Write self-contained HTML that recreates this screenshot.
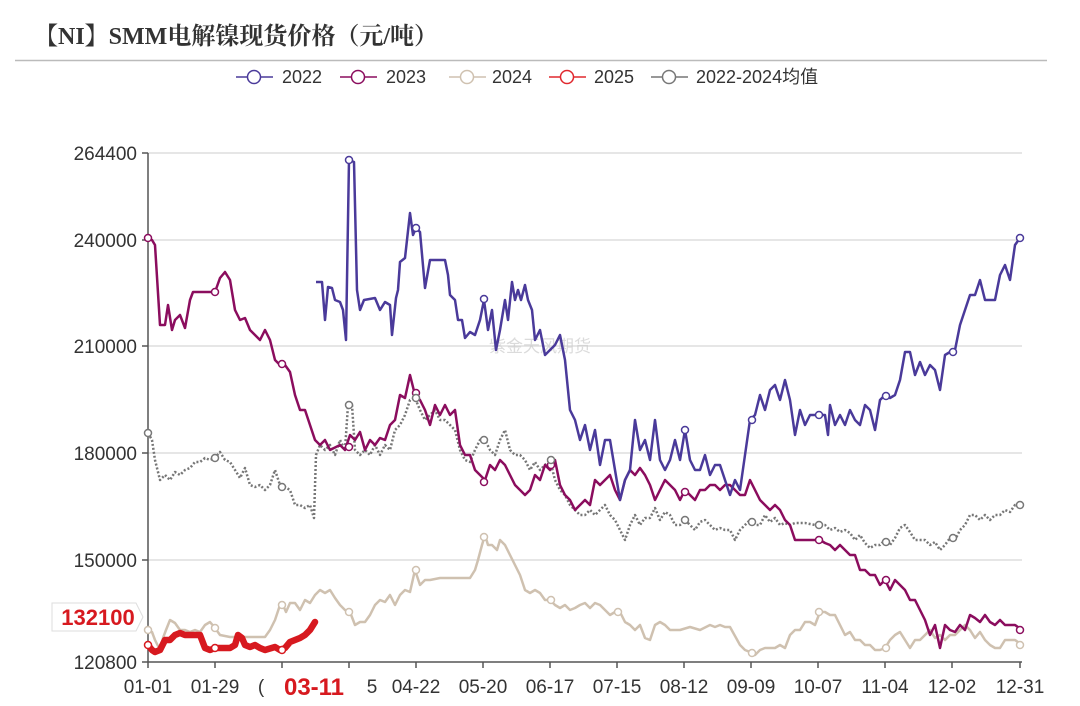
<!DOCTYPE html>
<html><head><meta charset="utf-8"><style>
body{margin:0;background:#fff;width:1080px;height:701px;overflow:hidden}
svg text{font-family:"Liberation Sans","Noto Sans CJK SC",sans-serif}
</style></head><body>
<svg width="1080" height="701" xmlns="http://www.w3.org/2000/svg">
<text x="34" y="44" font-weight="bold" font-size="24" fill="#333" style="font-family:'Liberation Serif','Noto Serif CJK SC',serif">【NI】SMM电解镍现货价格（元/吨）</text>
<line x1="15" y1="60.5" x2="1047" y2="60.5" stroke="#bbb" stroke-width="1.5"/>
<g font-size="18" fill="#333">
<line x1="236" y1="77" x2="273" y2="77" stroke="#4a3a9a" stroke-width="1.5"/><circle cx="254" cy="77" r="6.5" fill="#fff" stroke="#4a3a9a" stroke-width="1.5"/><text x="282" y="83">2022</text>
<line x1="340" y1="77" x2="377" y2="77" stroke="#8b0d5e" stroke-width="1.5"/><circle cx="358" cy="77" r="6.5" fill="#fff" stroke="#8b0d5e" stroke-width="1.5"/><text x="386" y="83">2023</text>
<line x1="449" y1="77" x2="486" y2="77" stroke="#cfc1b0" stroke-width="1.5"/><circle cx="467" cy="77" r="6.5" fill="#fff" stroke="#cfc1b0" stroke-width="1.5"/><text x="492" y="83">2024</text>
<line x1="549" y1="77" x2="586" y2="77" stroke="#e0282e" stroke-width="1.5"/><circle cx="567" cy="77" r="6.5" fill="#fff" stroke="#e0282e" stroke-width="1.5"/><text x="594" y="83">2025</text>
<line x1="651" y1="77" x2="688" y2="77" stroke="#777" stroke-width="1.5"/><circle cx="669" cy="77" r="6.5" fill="#fff" stroke="#777" stroke-width="1.5"/><text x="696" y="83">2022-2024均值</text>
</g>
<g stroke="#ddd" stroke-width="1.5">
<line x1="148" y1="153" x2="1022" y2="153"/><line x1="148" y1="240" x2="1022" y2="240"/><line x1="148" y1="346" x2="1022" y2="346"/><line x1="148" y1="453" x2="1022" y2="453"/><line x1="148" y1="560" x2="1022" y2="560"/>
</g>
<g stroke="#555" stroke-width="1.5">
<line x1="148" y1="153" x2="148" y2="662"/><line x1="148" y1="662" x2="1022" y2="662"/>
<line x1="142" y1="153" x2="148" y2="153"/><line x1="142" y1="240" x2="148" y2="240"/><line x1="142" y1="346" x2="148" y2="346"/><line x1="142" y1="453" x2="148" y2="453"/><line x1="142" y1="560" x2="148" y2="560"/><line x1="142" y1="662" x2="148" y2="662"/>
<line x1="148" y1="662" x2="148" y2="668"/><line x1="215" y1="662" x2="215" y2="668"/><line x1="282" y1="662" x2="282" y2="668"/><line x1="349" y1="662" x2="349" y2="668"/><line x1="416" y1="662" x2="416" y2="668"/><line x1="483" y1="662" x2="483" y2="668"/><line x1="550" y1="662" x2="550" y2="668"/><line x1="617" y1="662" x2="617" y2="668"/><line x1="684" y1="662" x2="684" y2="668"/><line x1="751" y1="662" x2="751" y2="668"/><line x1="818" y1="662" x2="818" y2="668"/><line x1="885" y1="662" x2="885" y2="668"/><line x1="952" y1="662" x2="952" y2="668"/><line x1="1020" y1="662" x2="1020" y2="668"/>
</g>
<g font-size="19" fill="#333" text-anchor="end">
<text x="137" y="160">264400</text><text x="137" y="247">240000</text><text x="137" y="353">210000</text><text x="137" y="460">180000</text><text x="137" y="567">150000</text><text x="137" y="669">120800</text>
</g>
<g font-size="19" fill="#333" text-anchor="middle">
<text x="148" y="693">01-01</text><text x="215" y="693">01-29</text><text x="261" y="693">(</text><text x="372" y="693">5</text><text x="416" y="693">04-22</text><text x="483" y="693">05-20</text><text x="550" y="693">06-17</text><text x="617" y="693">07-15</text><text x="684" y="693">08-12</text><text x="751" y="693">09-09</text><text x="818" y="693">10-07</text><text x="885" y="693">11-04</text><text x="952" y="693">12-02</text><text x="1020" y="693">12-31</text>
</g>
<text x="314" y="695" font-size="24" font-weight="bold" fill="#d7191f" text-anchor="middle">03-11</text>
<text x="540" y="352" font-size="17" fill="#ccc" text-anchor="middle" opacity="0.7">紫金天风期货</text>
<g fill="none" stroke-linejoin="round">
<polyline stroke="#cfc1b0" stroke-width="2.5" points="148,630 152,632 155,640 160,650 163,638 166,630 170,620 175,623 180,630 185,630 190,632 195,630 200,632 205,625 210,622 215,628 220,635 230,637 240,637 250,637 265,637 270,630 275,620 280,605 283,605 286,612 290,603 295,603 300,610 305,600 310,603 315,595 320,590 325,593 330,590 335,598 340,605 345,610 350,612 355,625 360,622 365,622 370,615 375,605 380,600 385,602 390,595 395,605 400,595 405,590 410,592 415,570 420,585 425,580 430,580 440,578 450,578 460,578 470,578 475,570 478,560 482,545 485,535 488,545 492,545 497,550 500,540 505,545 510,555 515,565 520,575 525,590 530,593 535,590 540,593 545,600 550,600 555,605 560,608 565,605 570,610 575,608 580,605 585,603 590,608 595,603 600,605 605,610 610,615 615,612 620,612 625,622 630,625 635,630 640,625 645,638 650,640 655,625 660,622 665,625 670,630 680,630 690,627 700,630 710,625 715,627 720,625 725,627 730,627 740,645 745,650 750,652 755,655 760,650 765,648 770,648 775,648 780,645 785,648 790,635 795,630 800,630 805,622 810,622 815,625 820,612 825,612 830,615 835,615 840,625 845,635 850,632 855,640 860,640 865,645 870,645 875,650 880,650 885,648 890,640 895,635 900,632 905,640 910,648 915,640 920,640 925,635 930,630 935,638 940,635 945,640 950,635 955,635 960,630 965,625 970,630 975,638 980,632 985,640 990,645 995,648 1000,648 1005,640 1010,640 1015,640 1022,645"/>
<polyline stroke="#777" stroke-width="2.5" stroke-dasharray="2,2" points="148,433 152,440 155,460 160,480 165,475 170,480 175,472 180,475 185,470 190,468 195,462 200,462 205,458 210,460 215,458 220,452 225,460 230,462 235,470 240,478 245,468 250,485 255,487 260,485 265,490 270,485 275,470 280,485 285,487 290,490 295,505 300,505 305,508 310,505 314,518 316,455 320,445 325,450 330,445 335,455 340,440 345,450 348,405 352,405 355,450 360,455 365,450 370,455 375,445 380,455 385,445 390,450 395,430 400,425 405,415 410,400 415,398 420,410 425,420 430,415 435,410 440,420 445,420 450,425 455,430 460,450 465,460 470,462 475,450 480,440 485,440 490,450 495,455 500,440 505,430 510,450 515,455 520,455 525,460 530,470 535,462 540,470 545,465 550,460 555,480 560,490 565,495 570,505 575,510 580,515 585,515 590,510 595,515 600,510 605,505 610,515 615,520 620,530 625,540 630,525 635,515 640,525 645,518 650,518 655,508 660,520 665,512 670,515 675,525 680,525 685,520 690,525 695,530 700,522 705,520 710,525 715,530 720,528 725,530 730,530 735,540 740,530 745,525 750,520 755,525 760,525 765,515 770,522 775,518 780,525 785,523 790,525 795,523 805,523 815,525 825,525 830,530 835,528 840,532 845,530 850,533 855,540 860,535 865,543 870,548 875,545 880,545 885,540 890,545 895,538 900,528 905,525 910,532 915,540 920,540 925,540 930,545 935,542 940,550 945,545 950,538 955,540 960,530 965,525 970,515 975,515 980,520 985,515 990,520 995,515 1000,515 1005,510 1010,512 1015,505 1022,505"/>
<polyline stroke="#8b0d5e" stroke-width="2.5" points="148,238 152,240 155,245 160,325 165,325 168,305 172,330 175,320 180,315 185,328 190,300 193,292 198,292 205,292 215,292 220,278 225,272 230,280 235,310 240,320 245,318 250,330 255,335 260,340 265,330 270,340 275,360 280,365 285,365 290,372 295,395 300,410 305,410 310,425 315,440 320,445 325,440 330,450 340,445 345,450 350,435 355,440 360,432 365,450 370,440 375,445 380,438 385,440 390,425 395,420 400,395 405,398 410,375 415,395 420,400 425,410 430,425 435,405 440,415 445,405 450,415 455,410 460,445 465,455 470,455 475,470 480,475 485,480 490,465 495,470 500,460 505,465 510,475 515,485 520,490 525,495 530,490 535,475 540,480 545,465 550,470 555,460 560,485 565,495 570,500 575,510 580,505 585,500 590,505 595,480 600,485 605,480 610,475 615,490 620,500 625,480 630,470 635,475 640,468 645,475 650,485 655,500 660,490 665,480 670,485 675,490 680,500 685,490 690,495 695,500 700,490 705,490 710,485 715,485 720,490 725,485 730,485 735,490 740,495 745,495 750,480 755,490 760,500 765,505 770,510 775,505 780,510 785,520 790,525 795,540 805,540 815,540 820,540 825,543 830,545 835,550 840,545 845,550 850,555 855,555 860,570 865,570 870,575 875,575 880,585 885,580 890,590 895,580 900,585 905,590 910,600 915,600 920,610 925,620 930,635 935,625 940,648 945,625 950,630 955,632 960,625 965,630 970,615 975,618 980,622 985,615 990,622 995,625 1000,620 1005,625 1010,625 1015,625 1022,630"/>
<polyline stroke="#4a3a9a" stroke-width="2.5" points="316,282 322,282 325,320 328,287 332,288 335,300 340,302 343,310 346,340 349,160 354,162 357,290 360,310 364,300 375,298 380,310 385,302 390,305 392,335 396,298 398,290 400,262 405,258 410,213 413,235 416,228 420,232 425,288 430,260 445,260 448,275 450,295 455,300 458,320 462,320 465,338 470,332 475,335 480,320 484,300 488,330 492,310 496,350 500,330 505,300 508,320 512,282 515,300 518,290 521,300 525,285 528,300 532,310 535,340 540,330 545,355 555,345 560,335 565,360 570,410 575,420 580,440 585,425 590,450 595,430 600,465 605,440 610,440 615,470 620,500 625,480 630,470 635,420 640,450 645,440 650,460 655,420 660,460 665,470 670,460 675,440 680,460 685,430 690,460 695,470 700,470 705,455 710,475 715,465 720,465 725,480 730,495 735,480 740,490 745,455 750,420 755,415 760,395 765,410 770,390 775,385 780,400 785,380 790,400 795,435 800,410 805,425 810,415 825,415 828,435 830,405 835,425 840,415 845,425 850,410 855,420 860,425 865,405 870,410 875,430 880,400 885,395 890,398 895,395 900,380 905,352 910,352 915,375 920,362 925,375 930,365 935,370 940,390 945,355 950,352 955,350 960,325 965,310 970,295 975,295 980,280 985,300 990,300 995,300 1000,275 1005,265 1010,280 1015,245 1020,238 1024,238"/>
<polyline stroke="#d7191f" stroke-width="6.5" stroke-linecap="round" points="148,645 152,650 155,652 160,650 165,640 170,640 175,635 180,633 185,635 195,635 200,635 205,648 210,650 215,648 230,648 235,645 238,635 242,638 245,645 250,647 255,645 260,648 265,650 275,647 280,650 285,648 290,642 295,640 300,638 305,635 310,630 315,622"/>
</g>
<g fill="#fff" stroke-width="1.5">
<g stroke="#4a3a9a"><circle cx="349" cy="160" r="3.5"/><circle cx="416" cy="228" r="3.5"/><circle cx="484" cy="299" r="3.5"/><circle cx="685" cy="430" r="3.5"/><circle cx="752" cy="420" r="3.5"/><circle cx="819" cy="415" r="3.5"/><circle cx="886" cy="396" r="3.5"/><circle cx="953" cy="352" r="3.5"/><circle cx="1020" cy="238" r="3.5"/></g>
<g stroke="#8b0d5e"><circle cx="148" cy="238" r="3.5"/><circle cx="215" cy="292" r="3.5"/><circle cx="282" cy="364" r="3.5"/><circle cx="349" cy="447" r="3.5"/><circle cx="416" cy="393" r="3.5"/><circle cx="484" cy="482" r="3.5"/><circle cx="551" cy="465" r="3.5"/><circle cx="685" cy="492" r="3.5"/><circle cx="819" cy="540" r="3.5"/><circle cx="886" cy="580" r="3.5"/><circle cx="1020" cy="630" r="3.5"/></g>
<g stroke="#cfc1b0"><circle cx="148" cy="630" r="3.5"/><circle cx="215" cy="628" r="3.5"/><circle cx="282" cy="605" r="3.5"/><circle cx="349" cy="612" r="3.5"/><circle cx="416" cy="570" r="3.5"/><circle cx="484" cy="537" r="3.5"/><circle cx="551" cy="600" r="3.5"/><circle cx="618" cy="612" r="3.5"/><circle cx="752" cy="653" r="3.5"/><circle cx="819" cy="612" r="3.5"/><circle cx="886" cy="648" r="3.5"/><circle cx="1020" cy="645" r="3.5"/></g>
<g stroke="#777"><circle cx="148" cy="433" r="3.5"/><circle cx="215" cy="458" r="3.5"/><circle cx="282" cy="487" r="3.5"/><circle cx="349" cy="405" r="3.5"/><circle cx="416" cy="398" r="3.5"/><circle cx="484" cy="440" r="3.5"/><circle cx="551" cy="460" r="3.5"/><circle cx="685" cy="520" r="3.5"/><circle cx="752" cy="522" r="3.5"/><circle cx="819" cy="525" r="3.5"/><circle cx="886" cy="542" r="3.5"/><circle cx="953" cy="538" r="3.5"/><circle cx="1020" cy="505" r="3.5"/></g>
<g stroke="#d7191f"><circle cx="148" cy="645" r="3.5"/><circle cx="215" cy="648" r="3.5"/><circle cx="282" cy="650" r="3.5"/></g>
</g>
<path d="M52,603 H136 L143,617 L136,631 H52 Z" fill="#fff" stroke="#ddd" stroke-width="1"/>
<text x="98" y="625" font-size="22" font-weight="bold" fill="#d7191f" text-anchor="middle">132100</text>
</svg>
</body></html>
